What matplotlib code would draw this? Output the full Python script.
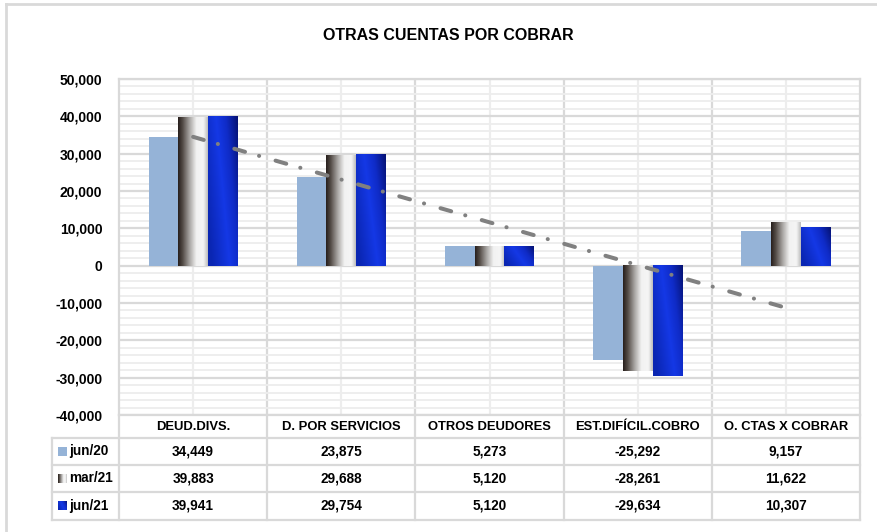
import numpy as np
import matplotlib
matplotlib.use('Agg')
import matplotlib.pyplot as plt
from matplotlib.colors import LinearSegmentedColormap
from matplotlib.ticker import MultipleLocator, FuncFormatter

# ---------------- data ----------------
title = "OTRAS CUENTAS POR COBRAR"
categories = ["DEUD.DIVS.", "D. POR SERVICIOS", "OTROS DEUDORES",
              "EST.DIFÍCIL.COBRO", "O. CTAS X COBRAR"]
series_names = ["jun/20", "mar/21", "jun/21"]
jun20 = [34449, 23875, 5273, -25292, 9157]
mar21 = [39883, 29688, 5120, -28261, 11622]
jun21 = [39941, 29754, 5120, -29634, 10307]
y_min, y_max, y_major, y_minor = -40000, 50000, 10000, 2000

# ---------------- style ----------------
FONT = ['Liberation Sans Narrow', 'Liberation Sans', 'DejaVu Sans']
plt.rcParams['font.family'] = FONT
plt.rcParams['lines.scale_dashes'] = False

GRID_MAJ = '#d9d9d9'
GRID_MIN = '#ededed'
C_JUN20 = '#95b3d7'

silver = LinearSegmentedColormap.from_list('silver', [
    (0.00, (0.15, 0.12, 0.11)),
    (0.15, (0.32, 0.29, 0.27)),
    (0.40, (0.68, 0.67, 0.66)),
    (0.62, (0.95, 0.95, 0.95)),
    (0.85, (0.96, 0.96, 0.96)),
    (1.00, (0.74, 0.74, 0.74)),
])
blue = LinearSegmentedColormap.from_list('blue', [
    (0.00, (0.04, 0.15, 0.70)),
    (0.45, (0.08, 0.22, 0.90)),
    (0.70, (0.06, 0.17, 0.78)),
    (1.00, (0.02, 0.07, 0.45)),
])


def silver_img(n=128):
    return silver(np.linspace(0, 1, n))[None, :, :]


def blue_img(nx=64, ny=64):
    xx, yy = np.meshgrid(np.linspace(0, 1, nx), np.linspace(0, 1, ny))
    t = np.clip(0.75 * xx + 0.35 * (1 - yy) - 0.1, 0, 1)  # darker toward top-right
    return blue(t)


W, H = 877, 532
fig = plt.figure(figsize=(W / 100, H / 100), dpi=100)
fig.patch.set_facecolor('white')

L, R, T, B = 119, 860, 79, 415
ax = fig.add_axes([L / W, 1 - B / H, (R - L) / W, (B - T) / H], zorder=2)
ov = fig.add_axes([0, 0, 1, 1], zorder=1)
ov.set_xlim(0, W)
ov.set_ylim(H, 0)
ov.axis('off')

n = len(categories)
xs = np.arange(n)
bw = 0.2

# gridlines
ax.set_ylim(y_min, y_max)
ax.set_xlim(-0.5, n - 0.5)
ax.yaxis.set_major_locator(MultipleLocator(y_major))
ax.yaxis.set_minor_locator(MultipleLocator(y_minor))
ax.grid(which='minor', axis='y', color=GRID_MIN, lw=1.3, zorder=0)
ax.grid(which='major', axis='y', color=GRID_MAJ, lw=1.6, zorder=0)
for i in xs:
    ax.axvline(i, color=GRID_MIN, lw=1.6, zorder=0)
for i in range(n - 1):
    ax.axvline(i + 0.5, color=GRID_MAJ, lw=1.6, zorder=0)
ax.set_axisbelow(True)

# bars
ax.bar(xs - bw, jun20, width=bw, color=C_JUN20, zorder=2, linewidth=0)
for i in xs:
    v = mar21[i]
    x0 = i - bw / 2
    ax.imshow(silver_img(), extent=(x0, x0 + bw, min(0, v), max(0, v)),
              aspect='auto', interpolation='bilinear', zorder=2)
    v = jun21[i]
    x0 = i + bw / 2
    ax.imshow(blue_img(), extent=(x0, x0 + bw, min(0, v), max(0, v)),
              aspect='auto', interpolation='bilinear', zorder=2)
ax.set_xlim(-0.5, n - 0.5)
ax.set_ylim(y_min, y_max)

# linear trend of mar/21
coef = np.polyfit(xs, mar21, 1)
ax.plot(xs, np.polyval(coef, xs), color='#808080', lw=2.9,
        dashes=[8, 10.5, 0.1, 12.3], dash_capstyle='round', zorder=5)

# axes styling
ax.set_xticks([])
ax.tick_params(axis='y', which='both', length=0, pad=12)
ax.yaxis.set_major_formatter(FuncFormatter(lambda v, p: f"{int(v):,}"))
for lab in ax.get_yticklabels():
    lab.set_fontweight('bold')
    lab.set_fontsize(10)
for s in ax.spines.values():
    s.set_color(GRID_MAJ)
    s.set_linewidth(1.6)

# title
ov.text(448.5, 35, title, ha='center', va='center',
        fontsize=11.5, fontweight='bold', color='#000000')

# outer frame (partially visible)
ov.plot([6, 6], [H, 4], color=GRID_MAJ, lw=2)
ov.plot([6, W], [4, 4], color=GRID_MAJ, lw=2)

# data table
col_w = (R - L) / n
row_lines = [438, 465, 492, 520]
leg_l = 52
for y in row_lines:
    ov.plot([leg_l, R], [y, y], color=GRID_MAJ, lw=1.6)
ov.plot([leg_l, leg_l], [438, 520], color=GRID_MAJ, lw=1.6)
ov.plot([L, L], [B, 520], color=GRID_MAJ, lw=1.6)
for i in range(1, n + 1):
    xb = L + i * col_w
    ov.plot([xb, xb], [B, 520], color=GRID_MAJ, lw=1.6)

for i, c in enumerate(categories):
    ov.text(L + (i + 0.5) * col_w, 427, c, ha='center', va='center',
            fontsize=9.4, fontweight='bold')

series_vals = [jun20, mar21, jun21]
for r, (name, vals) in enumerate(zip(series_names, series_vals)):
    yc = (row_lines[r] + row_lines[r + 1]) / 2
    for i, v in enumerate(vals):
        ov.text(L + (i + 0.5) * col_w, yc, f"{v:,}", ha='center', va='center',
                fontsize=9.8, fontweight='bold')
    ov.text(69, yc, name, ha='left', va='center', fontsize=9.8, fontweight='bold')
    kx0, kx1, ky0, ky1 = 58, 66.5, yc + 4.5, yc - 4.5
    if r == 0:
        ov.add_patch(plt.Rectangle((kx0, ky1), kx1 - kx0, ky0 - ky1,
                                   color=C_JUN20, lw=0))
    elif r == 1:
        ov.imshow(silver_img(), extent=(kx0, kx1, ky0, ky1), aspect='auto',
                  interpolation='bilinear')
    else:
        ov.imshow(blue_img(), extent=(kx0, kx1, ky0, ky1), aspect='auto',
                  interpolation='bilinear')
ov.set_xlim(0, W)
ov.set_ylim(H, 0)

fig.savefig('out.png', dpi=100, facecolor='white')
